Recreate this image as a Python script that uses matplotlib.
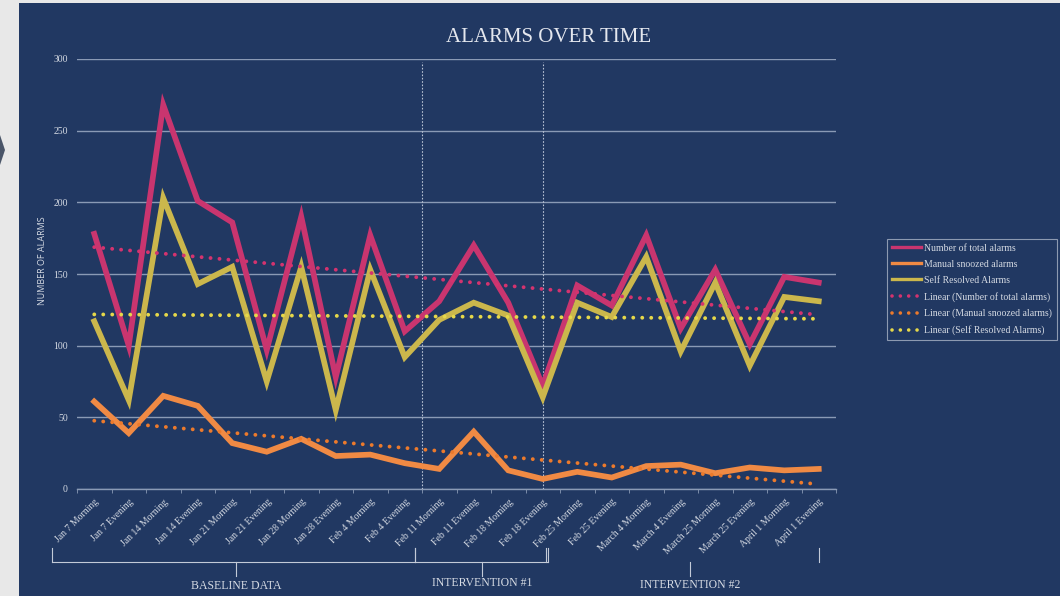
import numpy as np
import matplotlib
matplotlib.use("Agg")
import matplotlib.pyplot as plt
from matplotlib.lines import Line2D
from matplotlib.patches import Polygon, Rectangle

categories = [
    "Jan 7 Morning", "Jan 7 Evening", "Jan 14 Morning", "Jan 14 Evening",
    "Jan 21 Morning", "Jan 21 Evening", "Jan 28 Morning", "Jan 28 Evening",
    "Feb 4 Morning", "Feb 4 Evening", "Feb 11 Morning", "Feb 11 Evening",
    "Feb 18 Morning", "Feb 18 Evening", "Feb 25 Morning", "Feb 25 Evening",
    "March 4 Morning", "March 4 Evening", "March 25 Morning", "March 25 Evening",
    "April 1 Morning", "April 1 Evening",
]
total_alarms = [178, 100, 268, 201, 186, 97, 190, 78, 177, 110, 131, 170,
                130, 72, 142, 128, 177, 112, 153, 101, 148, 144]
manual_snoozed = [61, 39, 65, 58, 32, 26, 35, 23, 24, 18, 14, 40,
                  13, 7, 12, 8, 16, 17, 11, 15, 13, 14]
self_resolved = [117, 62, 203, 143, 155, 75, 155, 55, 153, 92, 118, 130,
                 121, 64, 130, 120, 162, 96, 144, 86, 134, 131]
y_ticks = [0, 50, 100, 150, 200, 250, 300]
phases = ["BASELINE DATA", "INTERVENTION #1", "INTERVENTION #2"]

BG = "#213862"
TXT = "#d5dae3"
GRID = "#8a9ab5"
SERIF = ["Liberation Serif", "DejaVu Serif"]

fig = plt.figure(figsize=(10.6, 5.96), dpi=100)
fig.patch.set_facecolor("#e8e8e8")
# navy panel
fig.add_artist(Rectangle((19 / 1060, 0), 1 - 19 / 1060, 1 - 3 / 596,
                         transform=fig.transFigure, facecolor=BG,
                         edgecolor="none", zorder=0))
# small chevron on the left strip
fig.add_artist(Polygon([(0, 1 - 135 / 596), (5 / 1060, 1 - 150 / 596),
                        (0, 1 - 165 / 596)], closed=True,
                       transform=fig.transFigure, facecolor="#4a5568",
                       edgecolor="none", zorder=1))

ax = fig.add_axes([77 / 1060, 1 - 489 / 596, (836 - 77) / 1060, (489 - 59) / 596])
ax.set_facecolor("none")

x = np.arange(len(categories))
series = [
    ("Number of total alarms", total_alarms, "#c9356f", "#d4336f"),
    ("Manual snoozed alarms", manual_snoozed, "#f08a44", "#ec7a2c"),
    ("Self Resolved Alarms", self_resolved, "#cbb74c", "#e6d84a"),
]
handles = []
for name, vals, col, _ in series:
    ax.plot(x, vals, color=col, lw=4.1, solid_joinstyle="miter", zorder=4)
    handles.append(Line2D([], [], color=col, lw=2.4, label=name))
for name, vals, _, tcol in series:
    slope, icpt = np.polyfit(x, vals, 1)
    ax.plot(x, slope * x + icpt, color=tcol, lw=2.8,
            linestyle=(0, (0.01, 2.3)), dash_capstyle="round", zorder=5)
    handles.append(Line2D([], [], color=tcol, lw=2.6,
                          linestyle=(0, (0.01, 2.3)), dash_capstyle="round",
                          label=f"Linear ({name})"))

ax.set_xlim(-0.5, len(categories) - 0.5)
ax.set_ylim(0, 300)
ax.set_yticks(y_ticks)
ax.set_yticklabels([str(v) for v in y_ticks], family=SERIF, fontsize=7,
                   color=TXT)
ax.yaxis.grid(True, color=GRID, lw=1.0)
ax.set_axisbelow(True)
ax.tick_params(axis="y", length=0, pad=6.5)
ax.set_xticks(x)
ax.set_xticklabels(categories, rotation=45, ha="right",
                   rotation_mode="anchor", family=SERIF, fontsize=7,
                   color=TXT)
ax.set_xticks(np.arange(-0.5, len(categories)), minor=True)
ax.tick_params(axis="x", which="major", length=0, pad=6)
ax.tick_params(axis="x", which="minor", length=3, color=GRID, direction="out")
for s in ["top", "right", "left"]:
    ax.spines[s].set_visible(False)
ax.spines["bottom"].set_color(GRID)
ax.spines["bottom"].set_linewidth(1.0)

# phase separators
for xv in (9.5, 13):
    ax.plot([xv, xv], [0, 298], color="#b8c2d4", lw=0.8,
            linestyle=(0, (1.5, 1.5)), zorder=3)

ax.set_ylabel("NUMBER OF ALARMS", family=["Open Sans", "DejaVu Sans"],
              fontsize=6.5, color=TXT)
ax.yaxis.set_label_coords(-30 / 759, 0.53)

fig.text(549 / 1060, 1 - 38 / 596, "ALARMS OVER TIME", family=SERIF,
         fontsize=15, color="#e4e7ee", ha="center", va="center")

# phase brackets beneath the category labels
def fx(px):
    return px / 1060

def fy(py):
    return 1 - py / 596

BR = "#c3cad8"
def bracket(x0, x1, xm, with_line=True):
    kw = dict(transform=fig.transFigure, color=BR, lw=0.8)
    if with_line:
        fig.add_artist(Line2D([fx(x0), fx(x1)], [fy(562), fy(562)], **kw))
    fig.add_artist(Line2D([fx(x0), fx(x0)], [fy(548), fy(562)], **kw))
    fig.add_artist(Line2D([fx(x1), fx(x1)], [fy(548), fy(562)], **kw))
    fig.add_artist(Line2D([fx(xm), fx(xm)], [fy(562), fy(576)], **kw))

bracket(52, 415, 236)
bracket(415, 548, 482)
bracket(546, 819, 690, with_line=False)
for label, xc, yc in zip(phases, (236, 482, 690), (586, 583, 585)):
    fig.text(fx(xc), fy(yc), label, family=SERIF, fontsize=8.5,
             color=TXT, ha="center", va="center")

leg = fig.legend(handles=handles, loc="upper left",
                 bbox_to_anchor=(887 / 1060, 1 - 239 / 596),
                 prop={"family": SERIF, "size": 7}, frameon=True,
                 facecolor=BG, edgecolor="#a9b3c6", fancybox=False,
                 labelcolor=TXT, handlelength=3.0, handletextpad=0.3,
                 labelspacing=0.72, borderpad=0.5, borderaxespad=0)
leg.get_frame().set_linewidth(0.8)

fig.savefig("out.png", dpi=100, facecolor=fig.get_facecolor())
